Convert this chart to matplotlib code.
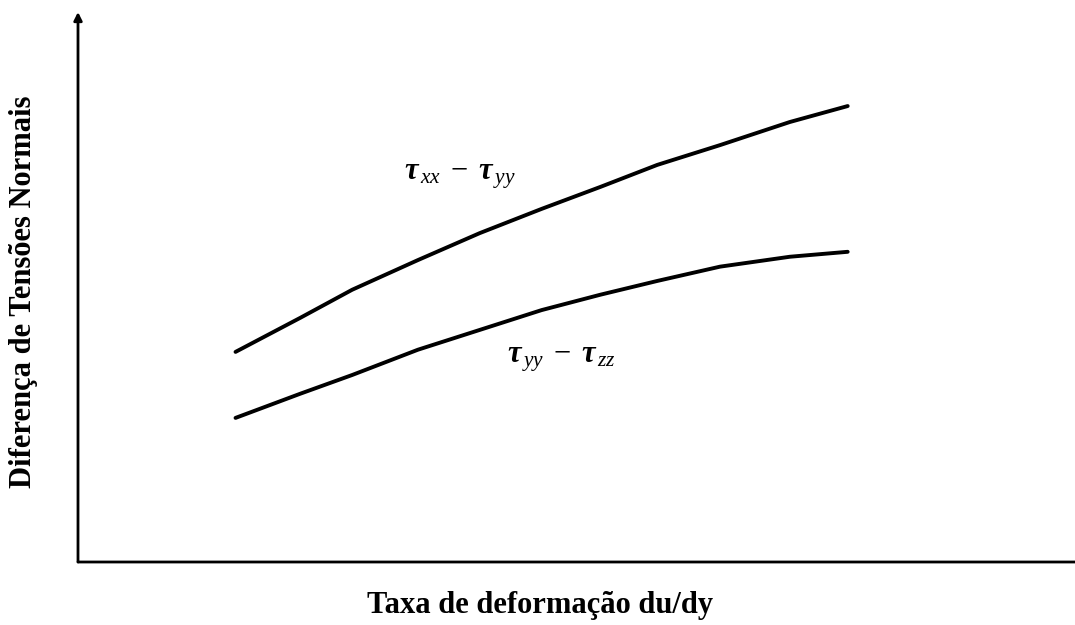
import matplotlib.pyplot as plt

plt.rcParams['font.family'] = ['Liberation Serif', 'DejaVu Serif']
plt.rcParams['mathtext.fontset'] = 'custom'
plt.rcParams['mathtext.rm'] = 'Liberation Serif'
plt.rcParams['mathtext.it'] = 'Liberation Serif:italic'
plt.rcParams['mathtext.bf'] = 'Liberation Serif:bold:italic'

# taxa de deformação (eixo x) e diferenças de tensões (eixo y)
taxa = [1.58, 2.23, 2.75, 3.41, 4.03, 4.65, 5.24, 5.81, 6.44, 7.14, 7.72]
n1 = [3.82, 4.44, 4.95, 5.49, 5.98, 6.42, 6.82, 7.22, 7.58, 8.00, 8.29]
n2 = [2.62, 3.06, 3.40, 3.86, 4.22, 4.58, 4.86, 5.11, 5.37, 5.55, 5.64]

fig = plt.figure(figsize=(10.75, 6.25), dpi=100)
ax = fig.add_axes([78 / 1075, 63 / 625, 997 / 1075, 550 / 625])
ax.set_xlim(0, 10)
ax.set_ylim(0, 10)

ax.plot(taxa, n1, color='black', lw=2.8, solid_capstyle='round')
ax.plot(taxa, n2, color='black', lw=2.8, solid_capstyle='round')

ax.text(3.27, 6.95, r'$\mathbf{\tau}_{\,xx}\;-\;\mathbf{\tau}_{\,yy}$', fontsize=22)
ax.text(4.30, 3.62, r'$\mathbf{\tau}_{\,yy}\;-\;\mathbf{\tau}_{\,zz}$', fontsize=22)

for s in ax.spines.values():
    s.set_visible(False)
ax.set_xticks([])
ax.set_yticks([])

# eixos com setas
ax.annotate('', xy=(0, 1.0), xytext=(0, 0), xycoords='axes fraction',
            arrowprops=dict(arrowstyle='-|>', color='black', lw=2,
                            mutation_scale=12, shrinkA=0, shrinkB=0))
ax.annotate('', xy=(1.0, 0), xytext=(0, 0), xycoords='axes fraction',
            arrowprops=dict(arrowstyle='-', color='black', lw=2,
                            shrinkA=0, shrinkB=0))

fig.text(540 / 1075, 1 - 606 / 625, 'Taxa de deformação du/dy',
         ha='center', va='center', fontsize=22, fontweight='bold')
fig.text(24 / 1075, 1 - 292 / 625, 'Diferença de Tensões Normais',
         ha='center', va='center', rotation=90, fontsize=22, fontweight='bold')

fig.savefig('out.png', dpi=100)
